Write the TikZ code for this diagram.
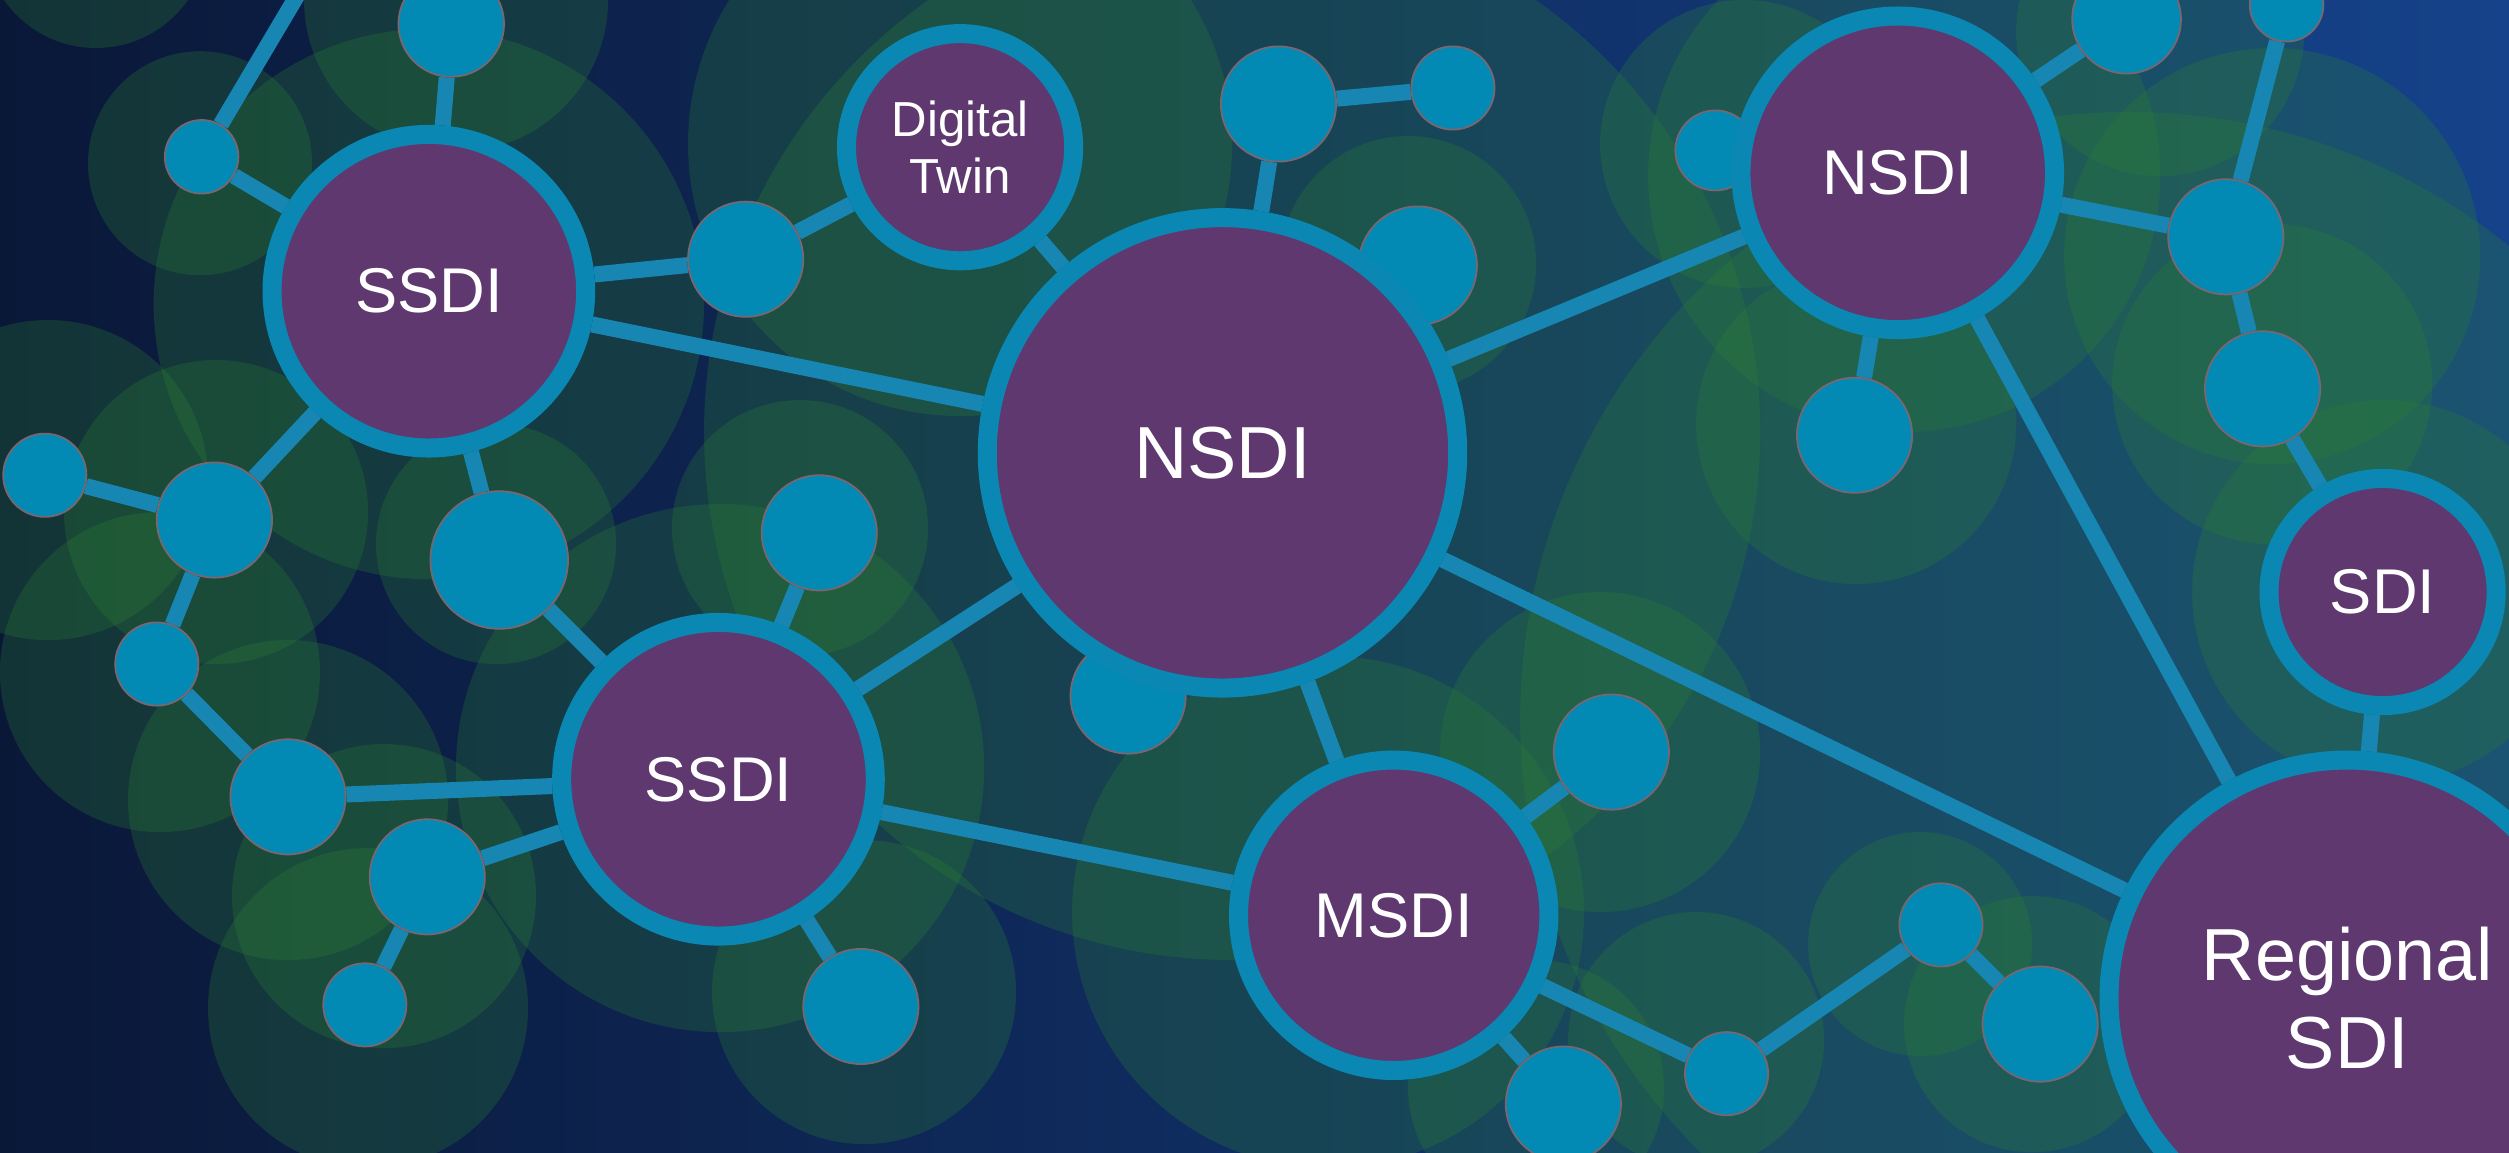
\documentclass[tikz,border=0pt]{standalone}
\usepackage{fontspec}
\setmainfont{Liberation Sans}
\usetikzlibrary{shadows}
\definecolor{bgleft}{RGB}{10,24,56}
\definecolor{bgright}{RGB}{21,66,138}
\definecolor{hubpurple}{RGB}{94,56,110}
\definecolor{ringblue}{RGB}{10,136,179}
\definecolor{leafblue}{RGB}{2,138,181}
\definecolor{leafrim}{RGB}{122,102,112}
\definecolor{linkblue}{RGB}{23,134,179}
\definecolor{halogreen}{RGB}{44,128,52}
\pgfdeclarelayer{halos}
\pgfdeclarelayer{links}
\pgfsetlayers{halos,links,main}
\tikzset{
  hub/.style={circle, draw=ringblue, fill=hubpurple, line width=0.19cm, inner sep=0pt,
    minimum size=(2*#1-12)*0.016cm, text=white, align=center,
    drop shadow={opacity=0.35, shadow xshift=0.04cm, shadow yshift=-0.08cm}},
  leaf/.style={circle, draw=leafrim, fill=leafblue, line width=0.5pt, inner sep=0pt,
    minimum size=2*#1*0.016cm},
  link/.style={draw=linkblue, line width=0.16cm},
  halo/.style={fill=halogreen, fill opacity=0.28},
}
\begin{document}
\begin{tikzpicture}[x=0.016cm,y=-0.016cm]
  \useasboundingbox (0,0) rectangle (1568,720);
  \begin{pgfonlayer}{halos}
    \shade[left color=bgleft, right color=bgright] (0,0) rectangle (1568,720);
    \foreach \x/\y/\r in {60/-40/70, 125/102/70, 285/0/95, 268/190/172, 30/300/100,
        135/320/95, 100/420/100, 180/500/100, 240/560/95, 230/630/100, 310/340/75,
        450/480/165, 500/330/80, 540/620/95, 770/270/330, 600/90/170, 880/165/80,
        830/570/160, 1000/470/100, 960/680/80, 1060/650/80, 1200/590/70, 1270/640/80,
        1160/265/100, 1090/90/90, 1190/110/160, 1350/20/90, 1420/160/130,
        1420/240/100, 1490/370/120, 1330/450/380}
      \fill[halo] (\x,\y) circle (\r);
  \end{pgfonlayer}

  % small sites
  \node[leaf=33] (p1) at (282,15) {};
  \node[leaf=23] (p2) at (126,98) {};
  \node[leaf=36] (p3) at (466,162) {};
  \node[leaf=36] (p4) at (799,65) {};
  \node[leaf=26] (p5) at (908,55) {};
  \node[leaf=37] (p6) at (886,166) {};
  \node[leaf=26] (p7) at (28,297) {};
  \node[leaf=36] (p8) at (134,325) {};
  \node[leaf=43] (p9) at (312,350) {};
  \node[leaf=26] (p10) at (98,415) {};
  \node[leaf=36] (p11) at (512,333) {};
  \node[leaf=36] (p12) at (705,435) {};
  \node[leaf=36] (p13) at (180,498) {};
  \node[leaf=36] (p14) at (267,548) {};
  \node[leaf=26] (p15) at (228,628) {};
  \node[leaf=36] (p16) at (538,629) {};
  \node[leaf=36] (p17) at (1007,470) {};
  \node[leaf=36] (p18) at (977,690) {};
  \node[leaf=26] (p19) at (1079,671) {};
  \node[leaf=26] (p20) at (1213,578) {};
  \node[leaf=36] (p21) at (1275,640) {};
  \node[leaf=36] (p22) at (1159,272) {};
  \node[leaf=25] (p23) at (1072,94) {};
  \node[leaf=34] (p24) at (1329,12) {};
  \node[leaf=23] (p25) at (1429,3) {};
  \node[leaf=36] (p26) at (1391,148) {};
  \node[leaf=36] (p27) at (1414,243) {};
  \coordinate (topA) at (190,-10);

  % the SDI hubs
  \node[hub=104, font=\fontsize{18}{20}\selectfont] (ssdiA) at (268,182) {SSDI};
  \node[hub=77, font=\fontsize{14}{16}\selectfont] (twin) at (600,92) {Digital\\Twin};
  \node[hub=153, font=\fontsize{21}{24}\selectfont] (nsdiC) at (764,283) {NSDI};
  \node[hub=104, font=\fontsize{18}{20}\selectfont] (nsdiR) at (1186,108) {NSDI};
  \node[hub=104, font=\fontsize{18}{20}\selectfont] (ssdiB) at (449,487) {SSDI};
  \node[hub=103, font=\fontsize{18}{20}\selectfont] (msdi) at (871,572) {MSDI};
  \node[hub=77, font=\fontsize{18}{20}\selectfont] (sdi) at (1489,370) {SDI};
  \node[hub=155, font=\fontsize{21}{25}\selectfont] (rsdi) at (1467,624) {Regional\\SDI};

  \begin{pgfonlayer}{links}
    \foreach \a/\b in {p2/topA, p1/ssdiA, p2/ssdiA, ssdiA/p3, p3/twin, twin/nsdiC,
        ssdiA/nsdiC, ssdiA/p8, ssdiA/p9, p7/p8, p8/p10, p10/p13, p13/ssdiB,
        p14/ssdiB, p14/p15, p9/ssdiB, p11/ssdiB, ssdiB/nsdiC, ssdiB/p16, ssdiB/msdi,
        p4/p5, p4/nsdiC, nsdiC/msdi, nsdiC/nsdiR, nsdiC/rsdi, msdi/p17, msdi/p18,
        msdi/p19, p19/p20, p20/p21, nsdiR/p22, nsdiR/p23, nsdiR/p24, nsdiR/p26,
        nsdiR/rsdi, p25/p26, p26/p27, p27/sdi, sdi/rsdi}
      \draw[link] (\a) -- (\b);
  \end{pgfonlayer}
\end{tikzpicture}
\end{document}
